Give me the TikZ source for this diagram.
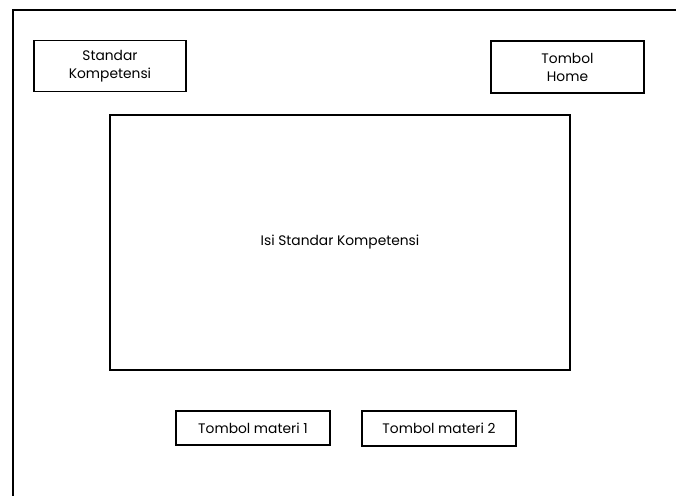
\documentclass[tikz,border=0pt]{standalone}
\usepackage{fontspec}
\setmainfont{Poppins}
\usetikzlibrary{positioning}

\begin{document}
\begin{tikzpicture}[x=1pt,y=-1pt,
    box/.style={draw,line width=1.6pt,align=center,font=\fontsize{13.8}{18}\selectfont,inner sep=0pt}]
  \useasboundingbox (0,0) rectangle (676,495);
  % frame
  \draw[line width=1.6pt] (13,500) -- (13,10) -- (680,10);
  \node (sk) [box,minimum width=152pt,minimum height=51pt] at (110,66) {Standar\\Kompetensi};
  \node (home) [box,minimum width=153pt,minimum height=52pt] at (567.5,67) {Tombol\\Home};
  \node (isi) [box,minimum width=460pt,minimum height=255pt] at (340,242.5) {Isi Standar Kompetensi};
  \node (m1) [box,minimum width=154pt,minimum height=34pt] at (253,428) {Tombol materi 1};
  \node (m2) [box,minimum width=154pt,minimum height=35pt] at (439,428.5) {Tombol materi 2};
\end{tikzpicture}
\end{document}
